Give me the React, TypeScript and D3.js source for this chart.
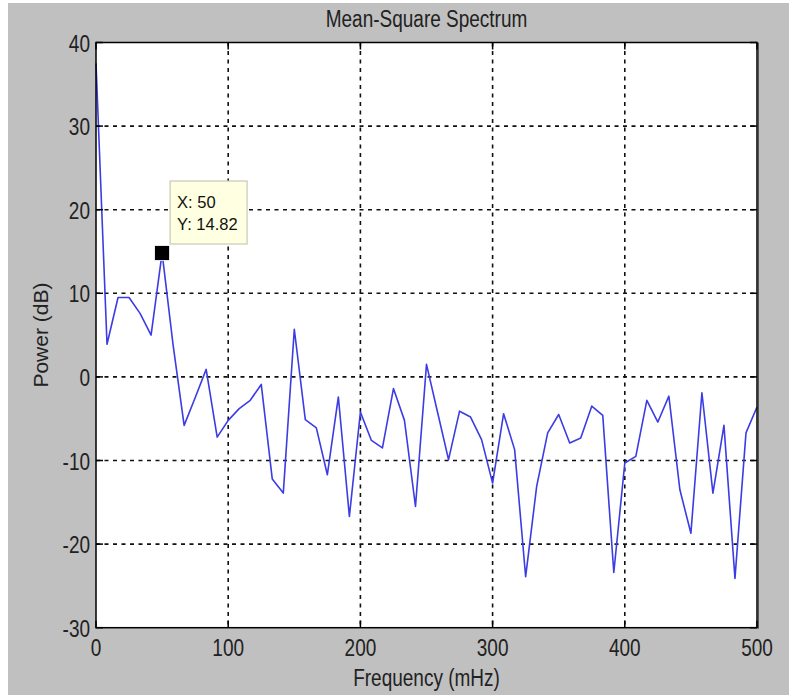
import React from "react";
import * as d3 from "d3";

// spectrum samples
const freqs = [
  0, 8.33, 16.67, 25, 33.33, 41.67, 50, 58.33, 66.67, 75, 83.33, 91.67,
  100, 108.33, 116.67, 125, 133.33, 141.67, 150, 158.33, 166.67, 175, 183.33, 191.67,
  200, 208.33, 216.67, 225, 233.33, 241.67, 250, 258.33, 266.67, 275, 283.33, 291.67,
  300, 308.33, 316.67, 325, 333.33, 341.67, 350, 358.33, 366.67, 375, 383.33, 391.67,
  400, 408.33, 416.67, 425, 433.33, 441.67, 450, 458.33, 466.67, 475, 483.33, 491.67,
  500,
];
const power = [
  37.5, 3.9, 9.5, 9.5, 7.6, 5.0, 14.82, 3.8, -5.8, -2.5, 0.9, -7.2,
  -5.2, -3.8, -2.8, -0.9, -12.2, -13.9, 5.7, -5.1, -6.1, -11.7, -2.4, -16.7,
  -4.2, -7.6, -8.5, -1.4, -5.2, -15.5, 1.5, -4.2, -9.9, -4.1, -4.8, -7.5,
  -12.7, -4.4, -8.7, -23.9, -13.1, -6.7, -4.5, -7.9, -7.3, -3.5, -4.6, -23.4,
  -10.3, -9.5, -2.8, -5.4, -2.3, -13.5, -18.7, -1.9, -13.9, -5.8, -24.1, -6.7,
  -3.6,
];
const xTicks = [0, 100, 200, 300, 400, 500];
const yTicks = [-30, -20, -10, 0, 10, 20, 30, 40];
const cursorX = 50;
const cursorY = 14.82;

const W = 789;
const H = 695;
const left = 96, right = 757, top = 42.5, bottom = 627.7;

export default function App() {
  const x = d3.scaleLinear().domain([0, 500]).range([left, right]);
  const y = d3.scaleLinear().domain([-30, 40]).range([bottom, top]);

  const line = d3.line<number>()
    .x((_, i) => x(freqs[i]))
    .y((d) => y(d));

  const font = "'Liberation Sans', Arial, sans-serif";
  const stretch = 1.3;
  const tick = 7;
  const cx = x(cursorX);
  const cy = y(cursorY);

  return (
    <svg width={W} height={H} style={{ position: "absolute", left: 0, top: 0 }}
      fontFamily={font}>
      <rect x={0} y={0} width={W} height={H} fill="#fff" />
      <rect x={8} y={3} width={W - 8} height={H - 3} fill="#c0c0c0" />
      <rect x={left} y={top} width={right - left} height={bottom - top} fill="#fff" />

      {/* grid */}
      <g stroke="#111" strokeWidth={1.6} strokeDasharray="4,4.5">
        {xTicks.slice(1, -1).map((t) => (
          <line key={"gx" + t} x1={x(t)} x2={x(t)} y1={top} y2={bottom} />
        ))}
        {yTicks.slice(1, -1).map((t) => (
          <line key={"gy" + t} x1={left} x2={right} y1={y(t)} y2={y(t)} />
        ))}
      </g>

      {/* data */}
      <path d={line(power) || ""} fill="none" stroke="#3c3ce4" strokeWidth={1.6}
        strokeLinejoin="round" />

      {/* inward ticks */}
      <g stroke="#000" strokeWidth={1.5}>
        {xTicks.map((t) => (
          <g key={"tx" + t}>
            <line x1={x(t)} x2={x(t)} y1={bottom} y2={bottom - tick} />
            <line x1={x(t)} x2={x(t)} y1={top} y2={top + tick} />
          </g>
        ))}
        {yTicks.map((t) => (
          <g key={"ty" + t}>
            <line x1={left} x2={left + tick} y1={y(t)} y2={y(t)} />
            <line x1={right} x2={right - tick} y1={y(t)} y2={y(t)} />
          </g>
        ))}
      </g>
      <rect x={left} y={top} width={right - left} height={bottom - top}
        fill="none" stroke="#000" strokeWidth={1.5} />
      <line x1={right + 1.5} x2={right + 1.5} y1={top} y2={bottom + 1}
        stroke="#555" strokeWidth={1} />

      {/* tick labels */}
      <g fontSize={19} fill="#222">
        {xTicks.map((t) => (
          <text key={"lx" + t} textAnchor="middle"
            transform={`translate(${x(t)},${bottom + 28}) scale(1,${stretch})`}>
            {t}
          </text>
        ))}
        {yTicks.map((t) => (
          <text key={"ly" + t} textAnchor="end"
            transform={`translate(${left - 6},${y(t) + 9}) scale(1,${stretch})`}>
            {t}
          </text>
        ))}
      </g>

      {/* titles */}
      <text textAnchor="middle" fontSize={19} fill="#222"
        transform={`translate(${(left + right) / 2},${top - 16}) scale(1,${stretch})`}>
        Mean-Square Spectrum
      </text>
      <text textAnchor="middle" fontSize={19} fill="#222"
        transform={`translate(${(left + right) / 2},${bottom + 58}) scale(1,${stretch})`}>
        Frequency (mHz)
      </text>
      <text textAnchor="middle" fontSize={21} fill="#222"
        transform={`translate(${48},${(top + bottom) / 2}) rotate(-90)`}>
        Power (dB)
      </text>

      {/* data cursor */}
      <rect x={cx - 7.5} y={cy - 7.5} width={15} height={15} fill="#000"
        stroke="#fff" strokeWidth={0.8} />
      <rect x={cx + 8} y={cy - 72} width={77} height={63} fill="#ffffe1"
        stroke="#c9c9b4" strokeWidth={1.2} />
      <g fontSize={16.5} fill="#111">
        <text x={cx + 15} y={cy - 45}>X: {cursorX}</text>
        <text x={cx + 15} y={cy - 23}>Y: {cursorY}</text>
      </g>
    </svg>
  );
}
